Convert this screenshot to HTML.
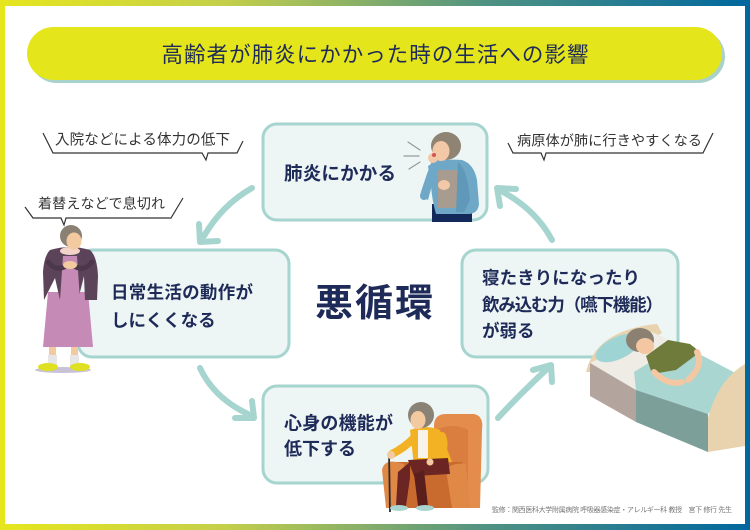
<!DOCTYPE html>
<html><head><meta charset="utf-8">
<style>
html,body{margin:0;padding:0;background:#fff;}
svg{display:block;}
text{font-family:"Liberation Sans","Noto Sans CJK JP",sans-serif;}
</style></head>
<body>
<svg width="750" height="530" viewBox="0 0 750 530" xmlns="http://www.w3.org/2000/svg">
<defs>
<linearGradient id="fr" x1="0" y1="0" x2="1" y2="0">
<stop offset="0" stop-color="#e6e61e"/>
<stop offset="0.3" stop-color="#c4cf4a"/>
<stop offset="0.65" stop-color="#4f9283"/>
<stop offset="1" stop-color="#00679e"/>
</linearGradient>
</defs>
<rect x="0" y="0" width="750" height="530" fill="url(#fr)"/>
<rect x="5" y="6" width="740" height="518" fill="#ffffff"/>

<!-- title -->
<rect x="30" y="30" width="695" height="53" rx="26.5" fill="#a9d2cc"/>
<rect x="27" y="27" width="695" height="53" rx="26.5" fill="#e5e51c"/>
<text x="375" y="62" text-anchor="middle" font-size="21.5" fill="#1e2b58" textLength="427" lengthAdjust="spacing">高齢者が肺炎にかかった時の生活への影響</text>

<!-- arrows -->
<g fill="none" stroke="#a6d4cf" stroke-width="6" stroke-linecap="round" stroke-linejoin="round">
<path d="M252,188 Q222,205 204,236"/>
<polyline points="199,224 200,242 218,241"/>
<path d="M200,368 Q214,398 248,414"/>
<polyline points="235,418 254,418 252,401"/>
<path d="M498,418 Q520,394 546,370"/>
<polyline points="533,370 551,365 552,382"/>
<path d="M552,240 Q536,210 503,192"/>
<polyline points="516,189 497,188 500,206"/>
</g>

<!-- boxes -->
<g fill="#edf5f5" stroke="#a6d4cf" stroke-width="3">
<rect x="263" y="124" width="224" height="96" rx="14"/>
<rect x="78" y="250" width="211" height="107" rx="14"/>
<rect x="462" y="250" width="216" height="107" rx="14"/>
<rect x="263" y="386" width="225" height="97" rx="14"/>
</g>

<g fill="#1e2b58" font-weight="bold">
<text x="284" y="180" font-size="18.5" textLength="112" lengthAdjust="spacing">肺炎にかかる</text>
<text x="111" y="298.5" font-size="17.5" textLength="142" lengthAdjust="spacing">日常生活の動作が</text>
<text x="111" y="326.5" font-size="17.5">しにくくなる</text>
<text x="482" y="284" font-size="17.5" textLength="158" lengthAdjust="spacing">寝たきりになったり</text>
<text x="482" y="311" font-size="17.5" textLength="181" lengthAdjust="spacing">飲み込む力（嚥下機能）</text>
<text x="482" y="337" font-size="17.5">が弱る</text>
<text x="284" y="429.5" font-size="18" textLength="109" lengthAdjust="spacing">心身の機能が</text>
<text x="284" y="455" font-size="18">低下する</text>
<text x="315" y="316" font-size="38" textLength="118" lengthAdjust="spacing">悪循環</text>
</g>

<!-- speech labels -->
<g fill="none" stroke="#333" stroke-width="1.2" stroke-linejoin="miter">
<polyline points="43,133 53,153 202,153 206,160 208,153 237,153 243,141"/>
<polyline points="25,207 33,218 61,218 64,225 66,218 171,218 183,198"/>
<polyline points="508,143 513,153 541,153 544,160 546,153 703,153 713,133"/>
</g>
<g fill="#333">
<text x="55" y="144.5" font-size="14.5" textLength="175" lengthAdjust="spacing">入院などによる体力の低下</text>
<text x="38" y="208.5" font-size="14" textLength="127" lengthAdjust="spacing">着替えなどで息切れ</text>
<text x="517" y="145.5" font-size="14.2" textLength="185" lengthAdjust="spacing">病原体が肺に行きやすくなる</text>
</g>

<text x="732" y="512" text-anchor="end" font-size="7" fill="#777" textLength="240" lengthAdjust="spacing">監修：関西医科大学附属病院 呼吸器感染症・アレルギー科 教授　宮下 修行 先生</text>

<!-- coughing woman -->
<g>
<g stroke="#9a9a9a" stroke-width="1.3" stroke-linecap="round">
<line x1="408" y1="142" x2="420" y2="150"/>
<line x1="404" y1="156" x2="419" y2="156"/>
<line x1="409" y1="169" x2="420" y2="162"/>
</g>
<rect x="432" y="204" width="40" height="18" fill="#13295a"/>
<path d="M428,166 Q440,158 462,160 Q474,164 477,180 L479,204 Q478,214 468,214 L436,214 Q432,200 431,186 Z" fill="#6fa8c7"/>
<rect x="438" y="170" width="19" height="38" fill="#a89b8f"/>
<path d="M458,162 Q468,170 470,200 L464,212 L456,212 Z" fill="#5f98b8"/>
<path d="M432,166 Q424,180 420,196 L428,200 Q432,184 437,172 Z" fill="#6fa8c7"/>
<path d="M424,196 Q432,170 436,162" stroke="#6fa8c7" stroke-width="8" fill="none" stroke-linecap="round"/>
<circle cx="433" cy="158" r="5" fill="#f3c8a6"/>
<ellipse cx="444" cy="185" rx="6" ry="5" fill="#f3c8a6"/>
<ellipse cx="446" cy="146" rx="15" ry="14" fill="#8f8473"/>
<ellipse cx="441" cy="151" rx="8.5" ry="10" fill="#f3c8a6"/>
<circle cx="434" cy="155" r="2" fill="#d9534f"/>
</g>

<!-- standing woman -->
<g>
<ellipse cx="63" cy="370" rx="28" ry="3" fill="#c8c2d6"/>
<rect x="49" y="343" width="7" height="14" fill="#f3c9a0"/>
<rect x="71" y="343" width="7" height="14" fill="#f3c9a0"/>
<rect x="48" y="355" width="9" height="11" fill="#e6e6e6"/>
<rect x="70" y="355" width="9" height="11" fill="#e6e6e6"/>
<ellipse cx="48" cy="367" rx="10" ry="4" fill="#dfe021"/>
<ellipse cx="80" cy="367" rx="10" ry="4" fill="#dfe021"/>
<polygon points="48,292 88,292 93,347 43,347" fill="#c58ab5"/>
<path d="M50,250 Q70,244 90,250 Q97,256 98,276 L97,300 L85,300 L84,276 L78,300 L60,300 L55,278 L44,300 L43,272 Q44,256 50,250 Z" fill="#5b4459"/>
<polygon points="63,256 77,256 80,300 60,300" fill="#c58ab5"/>
<path d="M48,262 Q56,272 66,266 M92,262 Q84,272 74,266" stroke="#4d384b" stroke-width="5" fill="none" stroke-linecap="round"/>
<ellipse cx="70" cy="265" rx="7" ry="4" fill="#f3c9a0"/>
<ellipse cx="70" cy="251" rx="10" ry="4" fill="#f3d3c7"/>
<ellipse cx="71" cy="236" rx="11" ry="11" fill="#8a8073"/>
<ellipse cx="74" cy="241" rx="7.5" ry="8.5" fill="#f3c9a0"/>
</g>

<!-- sitting woman with chair -->
<g>
<path d="M434,426 Q434,414 446,414 L474,414 Q484,416 482,430 L480,508 L434,508 Z" fill="#e38c4c"/>
<path d="M436,430 Q452,422 468,430 L468,508 L436,508 Z" fill="#d97e3e"/>
<path d="M396,462 L462,462 L468,508 L398,508 Z" fill="#c96b2f"/>
<path d="M382,470 Q384,460 396,462 L404,464 L406,508 L386,508 Z" fill="#e08845"/>
<path d="M446,470 Q452,462 466,464 L470,508 L452,508 Z" fill="#e08845"/>
<path d="M410,430 Q425,424 440,430 L452,462 L414,466 Z" fill="#f2b224"/>
<rect x="418" y="430" width="10" height="28" fill="#f7f2ea"/>
<path d="M414,438 Q404,448 392,454" stroke="#f2b224" stroke-width="8" fill="none" stroke-linecap="round"/>
<path d="M442,436 Q448,452 432,462" stroke="#f2b224" stroke-width="8" fill="none" stroke-linecap="round"/>
<path d="M408,460 L448,458 L450,474 L414,476 Z" fill="#6b2623"/>
<path d="M410,462 L398,472 L396,506 L406,506 L410,478 Z" fill="#6b2623"/>
<path d="M424,470 L414,474 L418,506 L428,506 Z" fill="#5a1f1c"/>
<line x1="389" y1="452" x2="390" y2="512" stroke="#2b2b2b" stroke-width="1.8"/>
<circle cx="391" cy="455" r="4" fill="#f3c9a0"/>
<circle cx="430" cy="462" r="3.5" fill="#f3c9a0"/>
<ellipse cx="399" cy="508" rx="9" ry="3" fill="#a9d4d0"/>
<ellipse cx="425" cy="508" rx="9" ry="3" fill="#a9d4d0"/>
<ellipse cx="421" cy="415" rx="13" ry="13" fill="#8b8276"/>
<ellipse cx="418" cy="420" rx="7.5" ry="9" fill="#f3c9a0"/>
</g>

<!-- bed -->
<g>
<path d="M586,372 Q596,330 657,324 L662,333 L594,372 Z" fill="#e8d3ae"/>
<polygon points="590,363 652,332 702,355 636,390" fill="#efebe5"/>
<polygon points="590,363 636,390 636,422 590,396" fill="#b3a49d"/>
<ellipse cx="618" cy="348" rx="24" ry="11" transform="rotate(-25 618 348)" fill="#9fd4d4"/>
<polygon points="634,372 680,344 745,378 708,414 636,390" fill="#a9d6d1"/>
<polygon points="636,390 708,414 708,452 636,422" fill="#7d9f99"/>
<path d="M708,452 L708,418 Q718,380 745,364 L745,446 Z" fill="#e8d3ae"/>
<ellipse cx="640" cy="340" rx="14" ry="12" fill="#8b8071"/>
<ellipse cx="645" cy="346" rx="9" ry="8" fill="#f2c7a2"/>
<polygon points="646,356 668,340 690,344 700,352 676,370 652,374" fill="#6e7b3b"/>
<path d="M697,352 Q704,366 688,380" stroke="#f2c7a2" stroke-width="6" fill="none" stroke-linecap="round"/>
<path d="M654,372 Q668,386 682,382" stroke="#f2c7a2" stroke-width="6" fill="none" stroke-linecap="round"/>
</g>
</svg>
</body></html>
